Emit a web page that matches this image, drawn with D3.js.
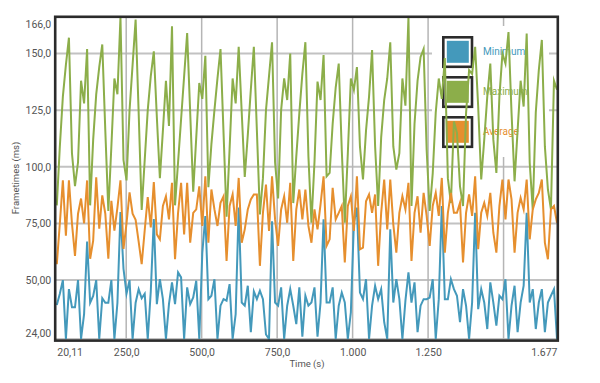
<!DOCTYPE html>
<html>
<head>
<meta charset="utf-8">
<script src="https://cdn.jsdelivr.net/npm/d3@7"></script>
<style>
  html, body { margin: 0; padding: 0; background: #fff; }
  svg { display: block; font-family: Roboto, "Noto Sans", sans-serif; }
</style>
</head>
<body>
<div id="chart"></div>
<script>
const seriesNames = ["Minimum", "Maximum", "Average"];
const seriesColors = ["#4499bb", "#8cae4a", "#e68f2e"];

const minimum = [
  39,44,50,24,46,38,38,50,24,35,67,40,43,50,24,42,40,40,50,24,40,80,55,44,50,24,40,46,42,44,24,45,77,
  39.4,50.4,41.6,24,39.4,49,39.4,53.4,51.2,24,46.8,39.4,42.3,49.7,24,62.1,78.3,41.6,43.1,50.4,24,38.7,41.6,40.9,48.2,24,35,82,40.1,38.7,47.5,27,45,
  41.6,45.3,41.6,26,24,76,40.1,38.7,46.8,24,38.7,46,38.7,30.6,46.8,25,43.1,38.7,40.1,46.8,25,40.1,76.8,40.1,40.1,46.8,24,38.7,44.5,40.1,24,35.8,75.3,
  82,44.5,41.6,50.4,24,38.7,47.5,41.6,46,31.4,24,72.4,40.1,50.4,41.6,24,40.9,53.4,40.1,49,27,38.7,41.6,41.6,42.3,50.4,24,41.6,82.7,41.6,41.6,50.4,46,
  43.1,31.4,46,38.7,24,40.1,79.7,37.2,46,40.1,28.4,49,40.1,29.9,43.1,41.6,50.4,24,38.7,47.5,27,40.1,47.5,79.7,40.1,46,28.4,40.1,46,27,40.1,43.1,46,24
];
const maximum = [
  83,109,131,145,157,106,91.5,102,138,128,152,83,112,132,144,154,116,80.5,109,139,132,166,103,94,125,145,165,124,81,103,125,140,151,
  122,95,116,138,118,162,83,102,121,140,159,124,89,113,137,130,149,91,110,125,139,152,115,78,108,139,128,153,124,95.5,114,134,153,
  116,79,95,125,140,155,102,86,125,139,129.5,150,84,104.6,123.6,141,155,104.6,75.3,102,137.6,129.5,149.3,95.8,97.3,119,135,145.6,107.5,75.3,106,139,134,
  144,109,94.4,116,131,151.5,109,82.7,113,129.5,139,155,109,98.8,106,139,127,166,82.7,119,138,148.5,152,107.5,80.5,97,124,139,130,148,95,84,120,
  115,91.4,82.7,123.6,142.7,141,153,126.6,94.4,112,131,145.6,112,97.3,131,150,145.6,159.5,124,93.6,116,138,126.6,158.8,101.7,81.2,124,142.7,156,109,90,81.2,138,134
];
const average = [
  57,75,94,69.6,94,75,60.7,79.3,86,75,94,59.4,67.4,95.4,72.7,87.4,79.3,59.4,85,71.8,82,94,63.8,75,88.7,79.3,76.6,67,57,72,86.6,73.3,93.3,
  70.2,68,82.7,87,76.8,92.9,59.2,79.7,92.9,70.2,92.9,66.5,79.7,81.2,91.4,73.9,95.8,66.5,90,81.2,73.9,84.1,87,58.5,82.7,87.8,73.9,95.1,66.5,72.4,81.2,85.6,87.8,
  87.8,56.3,79.7,92.2,71.7,95.8,76.8,65.1,81.2,87,75.3,92.9,58.5,81.2,90,76.8,90,73.9,66.5,81.2,72.4,83.4,95.8,65.1,68,90.7,76.8,79.7,82.7,57.8,82.7,87,71.7,
  95.8,63.6,64.3,84.8,87.8,79.7,87.8,56.3,79.7,94.4,72.4,94.4,74.6,62.1,79.7,87,81.2,92.9,58.5,79.7,87,70.9,88.5,78.3,65.1,82.7,88.5,78.3,95.1,62.1,79.7,88.5,79.7,
  79.7,84.1,57.8,79.7,87.8,78.3,95.8,63.6,79.7,84.1,78.3,88.5,70.9,62.1,82.7,94.4,76.8,94.4,85.6,62.1,79.7,86.3,81.2,94.4,68,81.2,85.6,88.5,94.4,66.5,59.2,81.2,82.7,75.3
];

const timeStart = 20.11;
const timeEnd = 1677;

const xTickValues = [20.11, 250, 500, 750, 1000, 1250, 1677];
const xTickLabels = ["20,11", "250,0", "500,0", "750,0", "1.000", "1.250", "1.677"];
const xGridValues = [250, 500, 750, 1000, 1250, 1500];
const yTickValues = [24, 50, 75, 100, 125, 150, 166];
const yTickLabels = ["24,00", "50,00", "75,00", "100,0", "125,0", "150,0", "166,0"];

const W = 600, H = 383;
const plot = { left: 55.2, right: 557.8, top: 16.8, bottom: 340.6 };

const svg = d3.select("#chart").append("svg")
  .attr("width", W).attr("height", H);

svg.append("rect").attr("width", W).attr("height", H).attr("fill", "#fff");

const n = minimum.length;
const times = minimum.map((_, i) => timeStart + i * (timeEnd - timeStart) / (n - 1));

const x = d3.scaleLinear().domain([timeStart, timeEnd]).range([56.8, 557]);
const y = d3.scaleLinear().domain([24, 166]).range([339, 17.3]);

// horizontal gridlines
svg.append("g").selectAll("line")
  .data(yTickValues.filter(v => v !== 166))
  .join("line")
  .attr("x1", plot.left).attr("x2", plot.right)
  .attr("y1", d => y(d)).attr("y2", d => y(d))
  .attr("stroke", "#c2c2c2").attr("stroke-width", 2);

// vertical gridlines
svg.append("g").selectAll("line")
  .data(xGridValues)
  .join("line")
  .attr("x1", d => x(d)).attr("x2", d => x(d))
  .attr("y1", plot.top).attr("y2", plot.bottom)
  .attr("stroke", "#b5b5b5").attr("stroke-width", 1.5);

// legend background (covers gridlines)
const legend = svg.append("g");
legend.append("rect")
  .attr("x", 432).attr("y", 26).attr("width", 117).attr("height", 131)
  .attr("fill", "#fff");

seriesNames.forEach((name, i) => {
  const g = legend.append("g").attr("transform", `translate(0,${40 * i})`);
  g.append("rect")
    .attr("x", 443.3).attr("y", 37.3).attr("width", 28.7).attr("height", 29.5)
    .attr("fill", "#fff").attr("stroke", "#2b2b2b").attr("stroke-width", 2.6);
  g.append("rect")
    .attr("x", 446.8).attr("y", 40.8).attr("width", 22).attr("height", 22)
    .attr("fill", seriesColors[i]);
  g.append("text")
    .attr("x", 483).attr("y", 51.5)
    .attr("dy", "0.35em")
    .attr("font-size", 10)
    .attr("fill", seriesColors[i])
    .text(name);
});

// lines
const seriesData = [minimum, maximum, average];
const line = d3.line()
  .x((d, i) => x(times[i]))
  .y(d => y(d));

seriesData.forEach((vals, k) => {
  svg.append("path")
    .datum(vals)
    .attr("d", line)
    .attr("fill", "none")
    .attr("stroke", seriesColors[k])
    .attr("stroke-width", 2)
    .attr("stroke-linejoin", "miter")
    .attr("stroke-miterlimit", 6);
});

// frame
svg.append("rect")
  .attr("x", plot.left).attr("y", plot.top)
  .attr("width", plot.right - plot.left).attr("height", plot.bottom - plot.top)
  .attr("fill", "none").attr("stroke", "#2b2b2b").attr("stroke-width", 2.6);

// y axis
const yAxis = d3.axisLeft(y)
  .tickValues(yTickValues)
  .tickFormat((d, i) => yTickLabels[i])
  .tickSize(0).tickPadding(4);
const gy = svg.append("g").attr("transform", `translate(${plot.left},0)`).call(yAxis);
gy.select(".domain").remove();
gy.selectAll("text").attr("font-size", 10.5).attr("fill", "#555").attr("font-family", "Roboto, sans-serif")
  .attr("y", d => d === 166 ? 7 : (d === 24 ? -6 : 0));

// x axis
const xAxis = d3.axisBottom(x)
  .tickValues(xTickValues)
  .tickFormat((d, i) => xTickLabels[i])
  .tickSize(0).tickPadding(8);
const gx = svg.append("g").attr("transform", `translate(0,${plot.bottom})`).call(xAxis);
gx.select(".domain").remove();
gx.selectAll("text").attr("font-size", 10.5).attr("fill", "#555").attr("font-family", "Roboto, sans-serif")
  .attr("text-anchor", (d, i) => i === 0 ? "start" : (i === xTickValues.length - 1 ? "end" : "middle"));

// axis titles
svg.append("text")
  .attr("transform", "translate(16,178) rotate(-90)")
  .attr("text-anchor", "middle").attr("dy", "0.35em")
  .attr("font-size", 9.5).attr("fill", "#555")
  .text("Frametimes (ms)");

svg.append("text")
  .attr("x", 307).attr("y", 364)
  .attr("text-anchor", "middle").attr("dy", "0.35em")
  .attr("font-size", 9.5).attr("fill", "#555")
  .text("Time (s)");
</script>
</body>
</html>
